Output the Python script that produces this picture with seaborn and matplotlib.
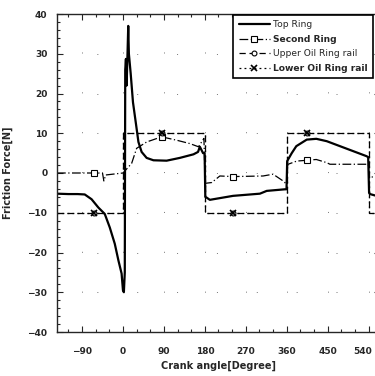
import numpy as np
import pandas as pd
import matplotlib
matplotlib.use("Agg")
import matplotlib.pyplot as plt
import matplotlib.transforms as mtransforms
import seaborn as sns
from matplotlib.ticker import MultipleLocator

# crank angle [deg] / friction force [N]
top_angle = [-145, -120, -100, -84, -69, -54, -40, -29, -18, -10, -3, 0, 2, 4,
             5, 6.5, 8, 10, 11.6, 13, 17, 22, 29, 34, 41, 52, 67, 96, 125, 155,
             165, 169, 176, 179.5, 181, 184, 191, 242, 301, 316, 356, 359.5, 361,
             371, 381, 404, 425, 448, 535, 539, 541, 543, 565]
top_force = [-5.2, -5.3, -5.3, -5.4, -6.6, -8.7, -10.3, -13.7, -17.8, -22, -25.3,
             -29.5, -30, -25, 26, 28.7, 22, 30, 37, 30, 25, 17.8, 12, 7.8, 5.3,
             3.8, 3.2, 3.1, 3.8, 4.7, 5.3, 6.6, 5.0, 5.0, -6, -6.2, -6.75, -5.75,
             -5.2, -4.5, -4.1, -4.1, 3, 5, 6.75, 8.4, 8.6, 8, 4.25, 4.0, -5, -5.3,
             -6]

second_angle = [-145, -63, -45, -42, -38, 0, 19, 30, 52, 85, 118, 147, 166,
                178, 180.5, 195, 213, 242, 308, 330, 352, 359.5, 361, 363, 382,
                404, 425, 448, 455, 535, 539.5, 541, 565]
second_force = [0, 0, 0, -2, -0.5, 0, 2.4, 6.2, 7.8, 9.1, 8.25, 7.4, 6.6, 8.7,
                -2.6, -2.4, -0.75, -0.9, -0.75, -0.3, -2, -2.8, 1.5, 2.2, 3, 3.2,
                3.4, 2.6, 2.2, 2.2, 2.2, -1, -1]

oil_angle = [-145, -63, 0, 0, 85, 180, 180, 242, 360, 360, 404, 540, 540, 565]
upper_oil_force = [-10, -10, -10, 10, 10, 10, -10, -10, -10, 10, 10, 10, -10, -10]
lower_oil_force = [-10, -10, -10, 10, 10, 10, -10, -10, -10, 10, 10, 10, -10, -10]

marker_angles = [-63, 85, 242, 404]

x_ticks = [-90, 0, 90, 180, 270, 360, 450, 540]
y_ticks = [-40, -30, -20, -10, 0, 10, 20, 30, 40]

sns.set_style("ticks")
plt.rcParams['font.family'] = ['DejaVu Sans']

fig = plt.figure(figsize=(3.75, 3.76), dpi=100)
ax = fig.add_axes([57 / 375, 44 / 376, 323 / 375, 318 / 376])


def marks(angles):
    return [i for i, a in enumerate(angles) if a in marker_angles]


top = pd.DataFrame({"angle": top_angle, "force": top_force})
sns.lineplot(data=top, x="angle", y="force", ax=ax, sort=False, color="black",
             lw=1.6, label="Top Ring", estimator=None)

ax.plot(second_angle, second_force, color="black", lw=0.9,
        linestyle=(0, (7, 2, 1, 2)), marker="s", ms=4.5, mfc="white",
        mew=0.8, markevery=marks(second_angle), label="Second Ring")
ax.plot(oil_angle, upper_oil_force, color="black", lw=0.9,
        linestyle=(0, (5, 3)), marker="o", ms=3.5, mfc="white", mew=0.8,
        markevery=marks(oil_angle), label="Upper Oil Ring rail")
ax.plot(oil_angle, lower_oil_force, color="black", lw=0.9,
        linestyle=(0, (1.5, 2.5)), marker="x", ms=4, mew=1.2,
        markevery=marks(oil_angle), label="Lower Oil Ring rail")

ax.set_xlim(-145, 565)
ax.set_ylim(-40, 40)
ax.set_xticks(x_ticks)
ax.set_yticks(y_ticks)
ax.xaxis.set_minor_locator(MultipleLocator(30))
ax.yaxis.set_minor_locator(MultipleLocator(2))
ax.tick_params(which="both", direction="in", top=True, right=True,
               labelsize=6.5, width=0.8)
ax.tick_params(which="major", length=4)
ax.tick_params(which="minor", length=2)
for lab in ax.get_xticklabels() + ax.get_yticklabels():
    lab.set_fontweight("bold")
ax.tick_params(axis="x", pad=11)
ax.tick_params(axis="y", pad=7)
for s in ax.spines.values():
    s.set_linewidth(1.0)

# nudge the last x label left so it stays inside the picture
last = ax.get_xticklabels()[-1]
last.set_transform(last.get_transform() +
                   mtransforms.ScaledTranslation(-4 / 72, 0, fig.dpi_scale_trans))

ax.grid(True, color="0.45", lw=0.7, linestyle=(0, (1, 40)))

ax.set_xlabel("Crank angle[Degree]", fontsize=7, fontweight="bold", labelpad=3)
ax.set_ylabel("Friction Force[N]", fontsize=7, fontweight="bold", labelpad=10)

leg = ax.legend(loc="upper left", bbox_to_anchor=(0.545, 0.997), borderaxespad=0,
                fontsize=6.6, frameon=True, fancybox=False, framealpha=1,
                edgecolor="black", handlelength=3.4, handletextpad=0.4,
                labelspacing=0.6, borderpad=0.6)
leg.get_frame().set_linewidth(1.2)
for i, t in enumerate(leg.get_texts()):
    if i % 2 == 1:
        t.set_fontweight("bold")

fig.savefig("out.png", dpi=100)
